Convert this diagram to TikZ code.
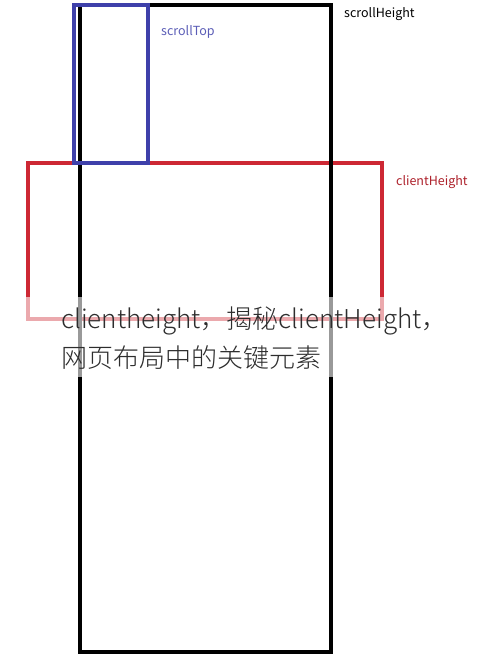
\documentclass[tikz,border=0pt]{standalone}
\usepackage{fontspec}
\newfontfamily\cjk{Noto Sans CJK SC}
\newfontfamily\cjklight{Noto Sans CJK SC Light}
\usetikzlibrary{positioning}
\definecolor{scrollblue}{RGB}{62,64,170}
\definecolor{clientred}{RGB}{205,40,52}
\definecolor{caption}{RGB}{45,45,45}

\begin{document}
\begin{tikzpicture}[x=1pt,y=-1pt,
    label/.style={inner sep=0pt, anchor=west, font=\cjk\fontsize{12.5}{14}\selectfont},
    box/.style={line width=3.6pt}]
   \useasboundingbox (0,0) rectangle (490,660);
   \fill[white] (0,0) rectangle (490,660);

   % client area and scrolled part
   \draw[box, draw=clientred] (28,163) rectangle (382,319);
   \draw[box, draw=black, line width=4pt] (80,5) rectangle (331,652);
   \draw[box, draw=scrollblue] (74,5) rectangle (148,163);

   \node[label, text=black] (sh) at (344,14) {scrollHeight};
   \node[label, text=scrollblue!85!white] (st) at (161,32) {scrollTop};
   \node[label, text=clientred!85!black] (ch) at (396,182) {clientHeight};

   % caption band
   \fill[white, opacity=0.6] (0,297) rectangle (490,377);
   \node[inner sep=0pt, anchor=north west, align=left, text=caption,
         font=\cjklight\fontsize{26}{39}\selectfont] (cap) at (61,307)
        {clientheight，揭秘clientHeight，\\网页布局中的关键元素};
\end{tikzpicture}
\end{document}
